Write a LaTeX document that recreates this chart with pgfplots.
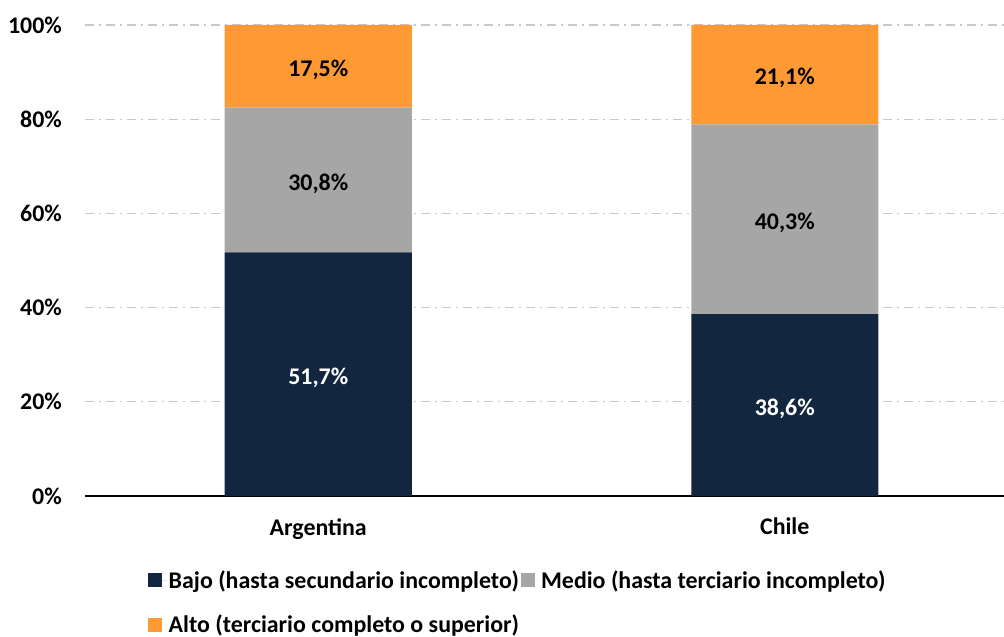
\documentclass[border=0pt]{standalone}
\usepackage{pgfplots}
\pgfplotsset{compat=1.18}
\usepackage{fontspec}
\setmainfont{Carlito}
\definecolor{bajo}{RGB}{18,38,64}
\definecolor{medio}{RGB}{166,166,166}
\definecolor{alto}{RGB}{255,153,51}
\definecolor{gridc}{RGB}{200,200,200}
\begin{document}
\begin{tikzpicture}[font=\bfseries\fontsize{24}{28}\selectfont]
\begin{axis}[
  name=ax,
  at={(0,0)}, anchor=south west,
  scale only axis, width=919bp, height=471bp,
  ybar stacked, bar width=187bp,
  xmin=-0.5, xmax=1.47, ymin=0, ymax=100,
  xtick={0,1}, xticklabels={Argentina,Chile},
  ytick={0,20,40,60,80,100},
  yticklabel={\pgfmathprintnumber{\tick}\%},
  /pgf/number format/assume math mode=true,
  axis x line*=bottom, axis y line*=left,
  y axis line style={draw=none},
  x axis line style={black, line width=1.5bp, -},
  major tick length=0,
  ymajorgrids,
  grid style={gridc, line width=1.2bp, dash pattern=on 9bp off 5bp on 2bp off 5bp},
  yticklabel style={anchor=east, inner sep=0pt, xshift=-23bp},
  xticklabel style={anchor=north, inner sep=0pt, yshift=-22bp},
  point meta=explicit,
  nodes near coords={\pgfmathprintnumber[fixed,fixed zerofill,precision=1,use comma]{\pgfplotspointmeta}\%},
  every node near coord/.append style={anchor=center, inner sep=0pt, yshift=-3.5bp},
  legend columns=2,
  legend cell align=left,
  legend style={at={(axis description cs:0,0)}, anchor=north west, xshift=63bp, yshift=-72bp,
    draw=none, fill=none, inner sep=0pt, column sep=-1bp, row sep=20bp,
    nodes={inner sep=2.5bp}},
  legend image code/.code={\fill[#1] (0bp,-7bp) rectangle (14bp,7bp); \path (0bp,0bp) -- (19bp,0bp);},
]
\addplot+[fill=bajo, draw=none, every node near coord/.append style={text=white}]
  coordinates {(0,51.7) [51.7] (1,38.6) [38.6]};
\addplot+[fill=medio, draw=none, every node near coord/.append style={text=black}]
  coordinates {(0,30.8) [30.8] (1,40.3) [40.3]};
\addplot+[fill=alto, draw=none, every node near coord/.append style={text=black}]
  coordinates {(0,17.5) [17.5] (1,21.1) [21.1]};
\legend{Bajo (hasta secundario incompleto), Medio (hasta terciario incompleto), Alto (terciario completo o superior)}
\end{axis}
\pgfresetboundingbox
\path (ax.south west) ++(-85bp,-141bp) rectangle ++(1004bp,637bp);
\end{tikzpicture}
\end{document}
